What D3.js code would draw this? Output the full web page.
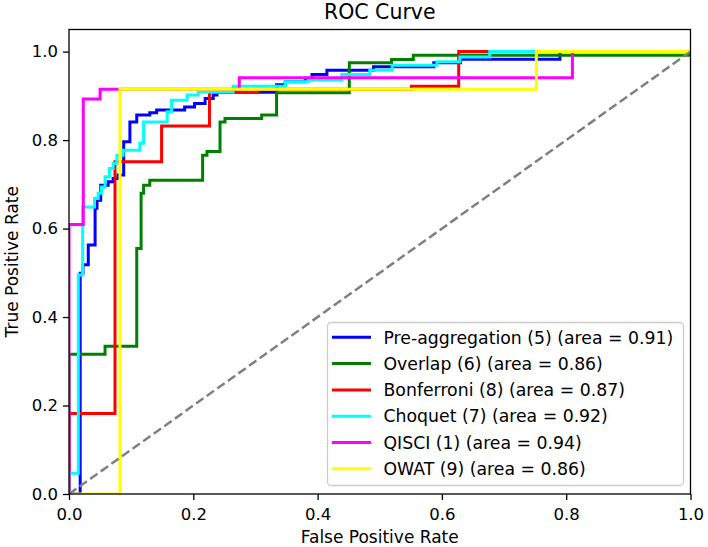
<!DOCTYPE html>
<html lang="en">
<head>
<meta charset="utf-8">
<title>ROC Curve</title>
<script src="https://cdn.jsdelivr.net/npm/d3@7"></script>
<style>
  body { margin: 0; background: #fff; }
  svg text { font-family: "DejaVu Sans", sans-serif; fill: #000; }
  .axis path, .axis line { stroke: #000; stroke-width: 1.3; }
</style>
</head>
<body>
<script>
// ROC points, step form: at each fpr the tpr jumps to the value given
var preAggFpr = [0, 0.018, 0.0225, 0.031, 0.042, 0.045, 0.051, 0.063, 0.071, 0.079, 0.088, 0.098, 0.109, 0.13, 0.141, 0.186, 0.202, 0.219, 0.232, 0.238, 0.334, 0.348, 0.38, 0.391, 0.415, 0.49, 0.587, 0.63, 0.79, 1];
var preAggTpr = [0, 0.499, 0.518, 0.563, 0.646, 0.664, 0.698, 0.706, 0.713, 0.721, 0.796, 0.841, 0.857, 0.862, 0.868, 0.875, 0.883, 0.894, 0.902, 0.908, 0.925, 0.932, 0.94, 0.948, 0.958, 0.966, 0.975, 0.983, 1, 1];

var overlapFpr = [0, 0, 0.058, 0.109, 0.116, 0.12, 0.13, 0.215, 0.222, 0.243, 0.251, 0.31, 0.334, 0.451, 0.519, 0.554, 1];
var overlapTpr = [0, 0.316, 0.334, 0.555, 0.68, 0.698, 0.709, 0.766, 0.774, 0.841, 0.849, 0.857, 0.907, 0.975, 0.982, 0.992, 0.992];

var bonfFpr = [0, 0, 0.074, 0.149, 0.226, 0.304, 0.551, 0.627, 1];
var bonfTpr = [0, 0.182, 0.751, 0.832, 0.909, 0.915, 0.922, 1, 1];

var choquetFpr = [0, 0, 0.015, 0.022, 0.041, 0.047, 0.052, 0.058, 0.065, 0.071, 0.077, 0.087, 0.114, 0.12, 0.158, 0.165, 0.19, 0.208, 0.264, 0.348, 0.385, 0.439, 0.484, 0.52, 0.592, 0.629, 0.677, 1];
var choquetTpr = [0, 0.047, 0.495, 0.649, 0.668, 0.68, 0.694, 0.717, 0.736, 0.747, 0.766, 0.777, 0.793, 0.841, 0.864, 0.89, 0.902, 0.909, 0.922, 0.932, 0.936, 0.948, 0.958, 0.969, 0.977, 0.988, 1, 1];

var qisciFpr = [0, 0, 0.023, 0.05, 0.274, 0.81, 1];
var qisciTpr = [0, 0.609, 0.893, 0.915, 0.941, 1, 1];

var owatFpr = [0, 0.082, 0.752, 1];
var owatTpr = [0, 0.915, 1, 1];

var labels = ["Pre-aggregation (5)", "Overlap (6)", "Bonferroni (8)", "Choquet (7)", "QISCI (1)", "OWAT (9)"];
var areas = [0.91, 0.86, 0.87, 0.92, 0.94, 0.86];
var colors = ["blue", "green", "red", "cyan", "magenta", "yellow"];
var tickValues = [0, 0.2, 0.4, 0.6, 0.8, 1.0];

var fprs = [preAggFpr, overlapFpr, bonfFpr, choquetFpr, qisciFpr, owatFpr];
var tprs = [preAggTpr, overlapTpr, bonfTpr, choquetTpr, qisciTpr, owatTpr];

var series = labels.map(function (l, i) {
    return {
        label: l + " (area = " + areas[i].toFixed(2) + ")",
        color: colors[i],
        points: fprs[i].map(function (f, j) { return [f, tprs[i][j]]; })
    };
});

var w = 708, h = 547;
var padL = 69, padR = 690.5, padT = 29.5, padB = 494;

var svg = d3.select("body").append("svg")
    .attr("width", w)
    .attr("height", h);

var x = d3.scaleLinear().domain([0, 1]).range([padL, padR]);
var y = d3.scaleLinear().domain([0, 1.05]).range([padB, padT]);

svg.append("clipPath").attr("id", "plot")
    .append("rect")
    .attr("x", padL).attr("y", padT)
    .attr("width", padR - padL).attr("height", padB - padT);

var line = d3.line()
    .x(function (d) { return x(d[0]); })
    .y(function (d) { return y(d[1]); })
    .curve(d3.curveStepAfter);

var g = svg.append("g").attr("clip-path", "url(#plot)");

g.selectAll("path.roc")
    .data(series)
    .enter()
    .append("path")
    .attr("class", "roc")
    .attr("d", function (d) { return line(d.points); })
    .attr("fill", "none")
    .attr("stroke", function (d) { return d.color; })
    .attr("stroke-width", 3);

// chance line
g.append("path")
    .attr("d", d3.line()([[x(0), y(0)], [x(1), y(1)]]))
    .attr("fill", "none")
    .attr("stroke", "#808080")
    .attr("stroke-width", 2.5)
    .attr("stroke-dasharray", "9,4");

// axes
var fmt = d3.format(".1f");
svg.append("g")
    .attr("class", "axis")
    .attr("transform", "translate(0," + padB + ")")
    .call(d3.axisBottom(x).tickValues(tickValues).tickFormat(fmt).tickSize(6).tickPadding(8))
    .call(function (s) { s.select(".domain").remove(); s.selectAll("text").attr("font-size", "16.5px"); });

svg.append("g")
    .attr("class", "axis")
    .attr("transform", "translate(" + padL + ",0)")
    .call(d3.axisLeft(y).tickValues(tickValues).tickFormat(fmt).tickSize(6).tickPadding(5))
    .call(function (s) { s.select(".domain").remove(); s.selectAll("text").attr("font-size", "16.5px"); });

// frame
svg.append("rect")
    .attr("x", padL).attr("y", padT)
    .attr("width", padR - padL).attr("height", padB - padT)
    .attr("fill", "none")
    .attr("stroke", "#000")
    .attr("stroke-width", 1.3);

svg.append("text")
    .attr("x", (padL + padR) / 2).attr("y", 18.5)
    .attr("text-anchor", "middle")
    .attr("font-size", "20.5px")
    .text("ROC Curve");

svg.append("text")
    .attr("x", (padL + padR) / 2).attr("y", 543)
    .attr("text-anchor", "middle")
    .attr("font-size", "17px")
    .text("False Positive Rate");

svg.append("text")
    .attr("transform", "translate(18," + (padT + padB) / 2 + ") rotate(-90)")
    .attr("text-anchor", "middle")
    .attr("font-size", "17px")
    .text("True Positive Rate");

// legend
var lg = svg.append("g");
lg.append("rect")
    .attr("x", 327.5).attr("y", 322.5)
    .attr("width", 356).attr("height", 163)
    .attr("rx", 4)
    .attr("fill", "#fff").attr("fill-opacity", 0.8)
    .attr("stroke", "#cccccc").attr("stroke-width", 1.3);

var rows = lg.selectAll("g.row")
    .data(series)
    .enter()
    .append("g")
    .attr("class", "row")
    .attr("transform", function (d, i) { return "translate(0," + (337.3 + i * 26.3) + ")"; });

rows.append("line")
    .attr("x1", 332).attr("x2", 371)
    .attr("stroke", function (d) { return d.color; })
    .attr("stroke-width", 3);

rows.append("text")
    .attr("x", 383.5)
    .attr("dy", "0.36em")
    .attr("font-size", "17.3px")
    .text(function (d) { return d.label; });
</script>
</body>
</html>
